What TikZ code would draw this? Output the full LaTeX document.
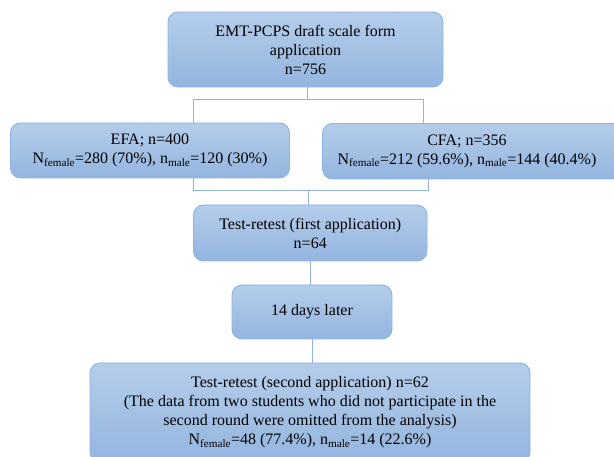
\documentclass[tikz,border=0pt]{standalone}
\usepackage{fontspec}
\setmainfont{Liberation Serif}
\usetikzlibrary{shadings}
\definecolor{boxtop}{HTML}{B5CDEA}
\definecolor{boxbot}{HTML}{93B5DF}
\definecolor{boxline}{HTML}{8DB3E2}
\definecolor{conn}{HTML}{8FB4E0}
\tikzset{
  flowbox/.style={rounded corners=10pt, draw=boxline, line width=0.9pt,
    top color=boxtop, bottom color=boxbot, inner sep=0pt, align=center,
    font=\fontsize{16}{19}\selectfont, text=black},
  plaintext/.style={inner sep=0pt, align=center, font=\fontsize{16}{19}\selectfont, text=black},
  link/.style={draw=conn, line width=0.9pt}
}
\newcommand{\sbs}[1]{\textsubscript{#1}}
\begin{document}
\begin{tikzpicture}[x=1pt,y=-1pt]
\useasboundingbox (0,0) rectangle (614,457);
\clip (0,0) rectangle (614,457);
\node[flowbox, minimum width=275pt, minimum height=75pt] (top) at (305.5,49.5)
  {EMT-PCPS draft scale form\\application\\n=756};
\node[flowbox, minimum width=279pt, minimum height=55pt] (efa) at (150,150.5)
  {EFA; n=400\\N\sbs{female}=280 (70\%), n\sbs{male}=120 (30\%)};
\node[flowbox, minimum width=302.5pt, minimum height=55.5pt] (cfa) at (473.75,151.25) {};
\node[plaintext] (cfatext) at (467,151.25)
  {CFA; n=356\\N\sbs{female}=212 (59.6\%), n\sbs{male}=144 (40.4\%)};
\node[flowbox, minimum width=233.5pt, minimum height=56pt] (test) at (310.25,233)
  {Test-retest (first application)\\n=64};
\node[flowbox, minimum width=160pt, minimum height=54pt] (days) at (312,312)
  {14 days later};
\node[flowbox, minimum width=440pt, minimum height=99pt] (bottom) at (310,412.5)
  {Test-retest (second application) n=62\\(The data from two students who did not participate in the\\second round were omitted from the analysis)\\N\sbs{female}=48 (77.4\%), n\sbs{male}=14 (22.6\%)};
\coordinate (j1) at (307,99);
\coordinate (jl) at (193,99);
\coordinate (jr) at (423,99);
\coordinate (kl) at (193,190);
\coordinate (kr) at (428,190);
\coordinate (k1) at (308,190);
\draw[link] (j1 |- top.south) -- (j1);
\draw[link] (jl |- efa.north) -- (jl) -- (jr) -- (jr |- cfa.north);
\draw[link] (kl |- efa.south) -- (kl) -- (kr) -- (kr |- cfa.south);
\draw[link] (k1) -- (k1 |- test.north);
\draw[link] (test.south) -- (test.south |- days.north);
\draw[link] (days.south) -- (days.south |- bottom.north);
\end{tikzpicture}
\end{document}
